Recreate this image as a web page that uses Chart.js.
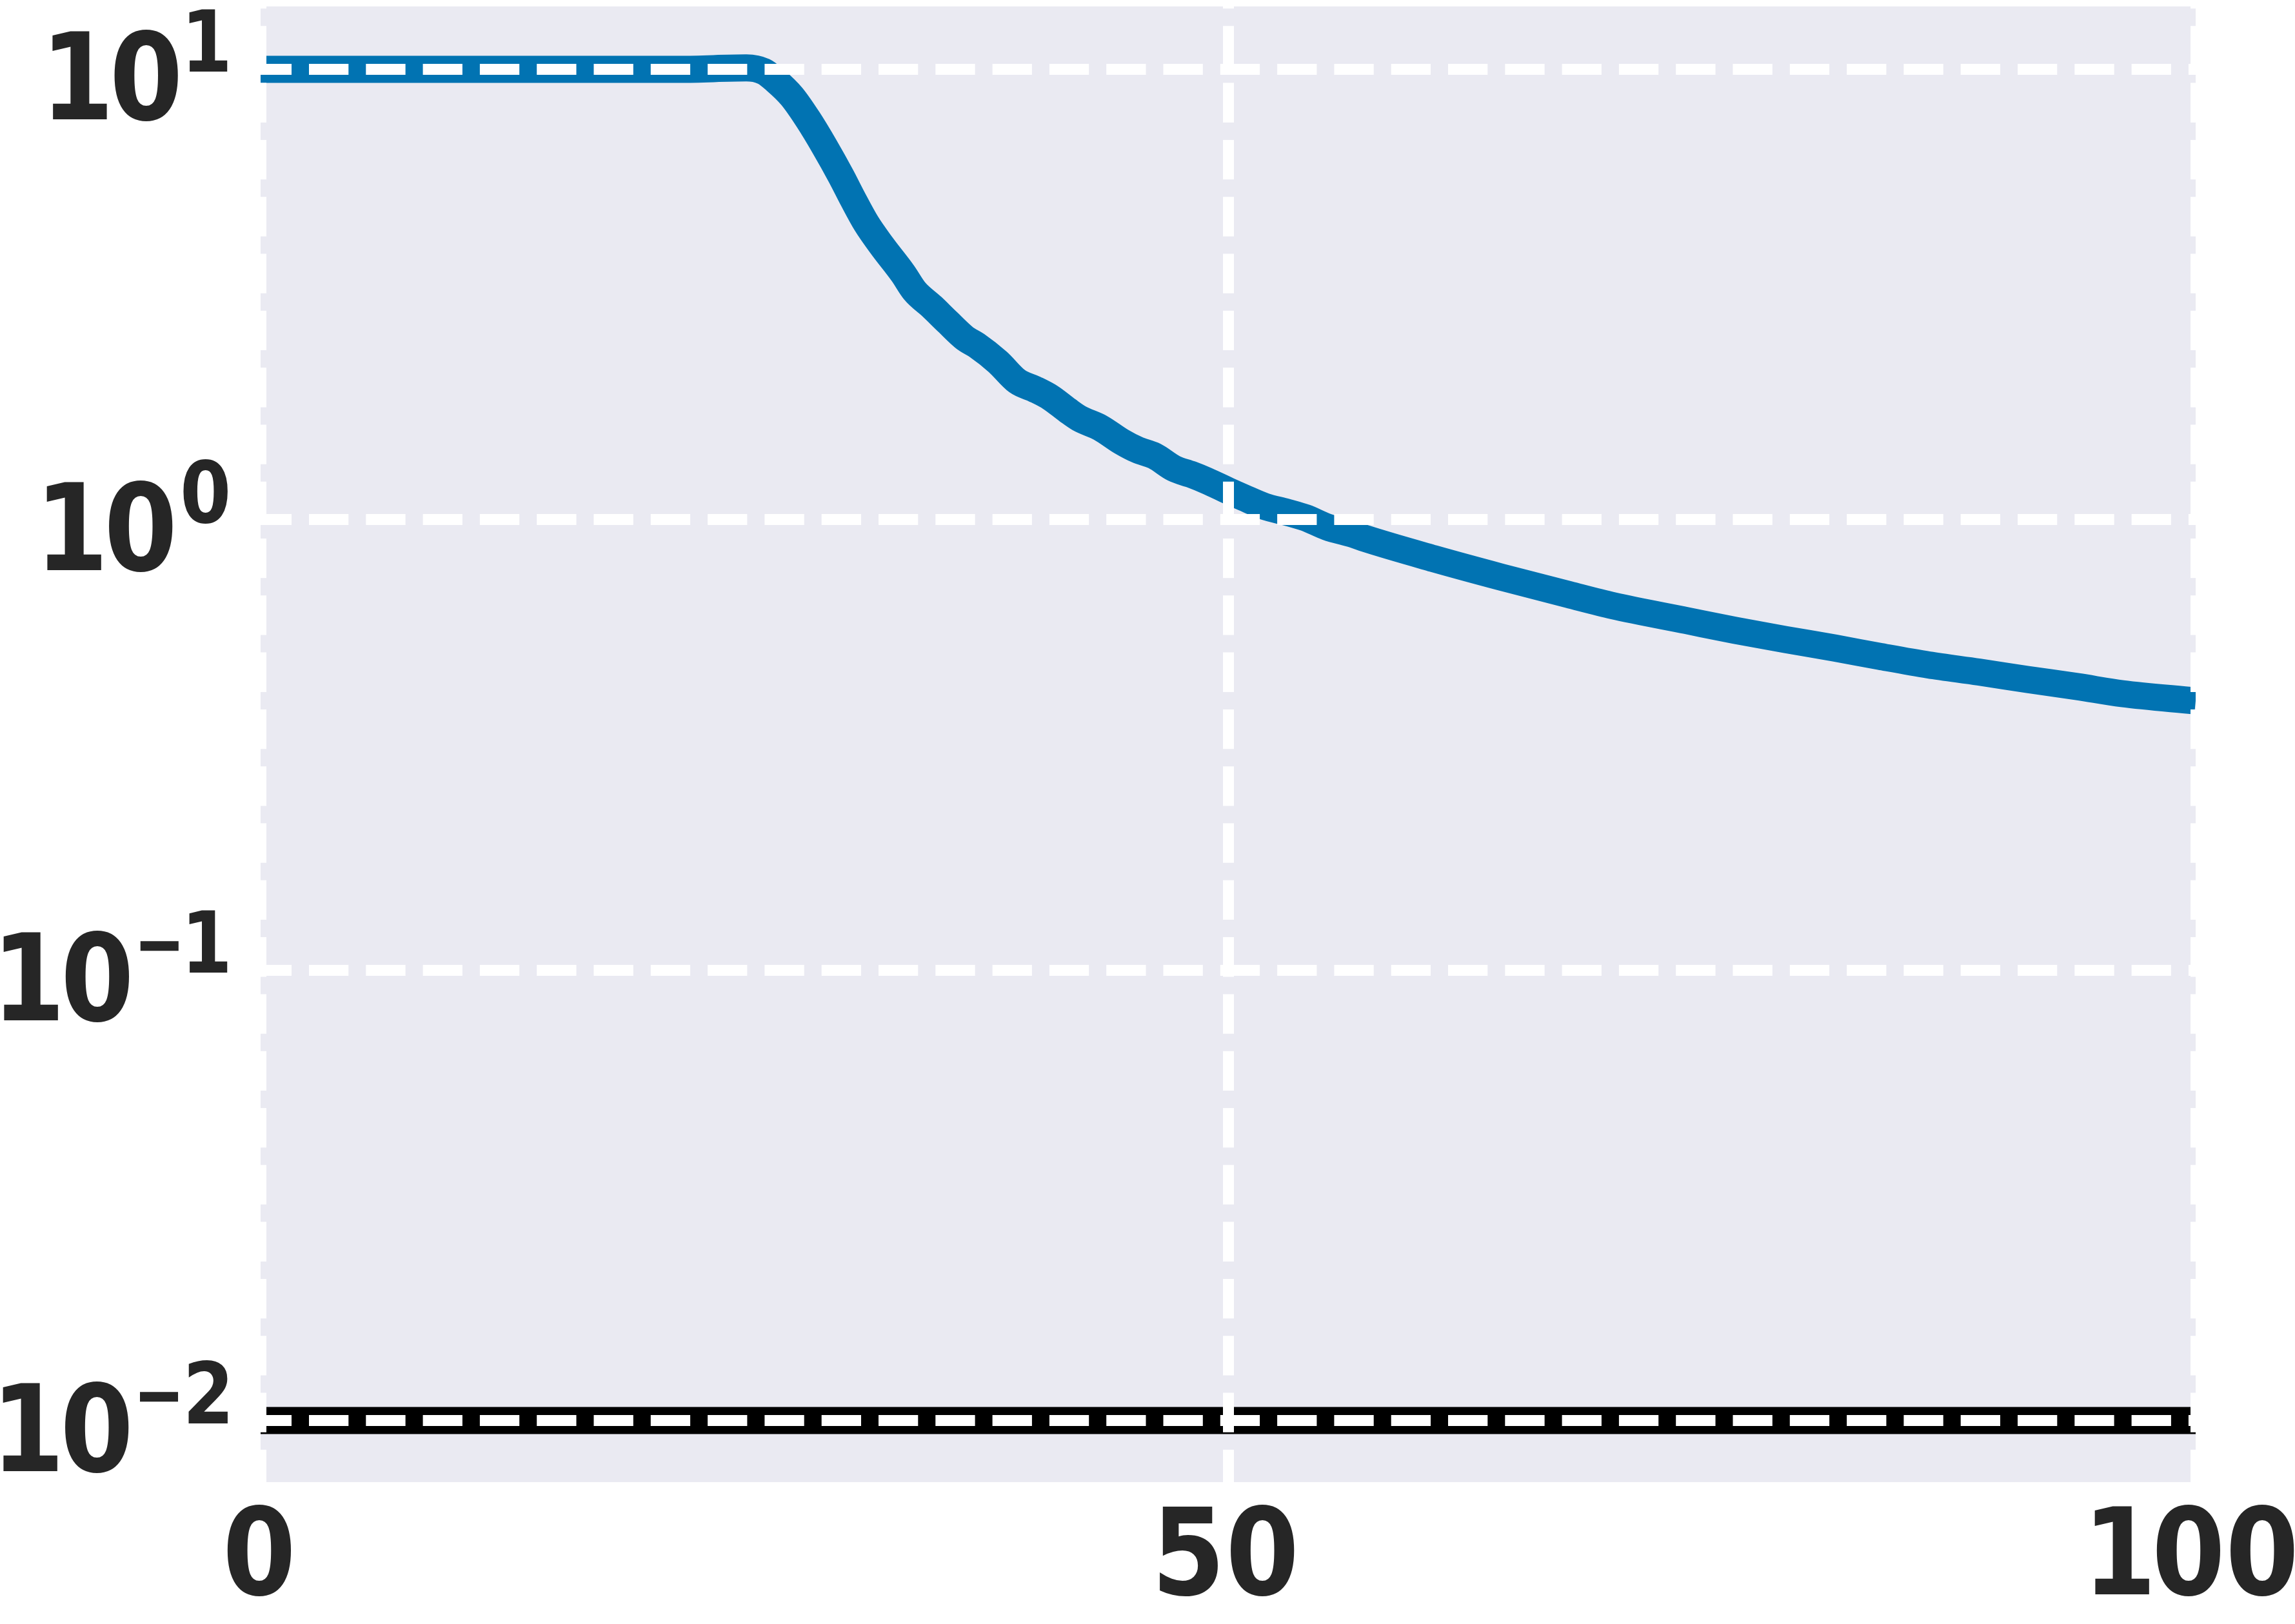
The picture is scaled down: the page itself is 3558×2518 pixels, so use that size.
<!DOCTYPE html>
<html>
<head>
<meta charset="utf-8">
<script src="https://cdn.jsdelivr.net/npm/chart.js@4.4.0/dist/chart.umd.min.js"></script>
<style>
  html, body { margin: 0; padding: 0; background: #ffffff; }
  canvas { display: block; }
</style>
</head>
<body>
<canvas id="grafico" width="3558" height="2518"></canvas>
<script>
// datos (eje y logaritmico)
const epocas = [0, 21.7, 25.1, 26.0, 26.6, 27.45, 28.3, 29.15, 30.0, 30.6, 31.3, 32.1, 33.2, 33.8, 34.7,
    35.5, 36.4, 37.0, 38.1, 39.1, 40.0, 40.8, 41.7, 42.3, 43.4, 44.5, 45.3, 46.2, 47.2, 48.1, 48.9,
    50.0, 50.8, 51.9, 53.0, 54.0, 55.1, 56.5, 57.1, 60.6, 64.1, 67.6, 69.9, 73.7, 76.2, 78.8, 81.35,
    83.7, 86.2, 88.8, 91.3, 93.9, 96.2, 100];
const perdida = [10.0, 10.0, 10.07, 9.89, 9.46, 8.71, 7.73, 6.73, 5.79, 5.16, 4.55, 4.06, 3.52, 3.22, 2.97,
    2.75, 2.53, 2.44, 2.24, 2.03, 1.95, 1.87, 1.75, 1.68, 1.60, 1.49, 1.43, 1.385, 1.30, 1.26, 1.22,
    1.16, 1.12, 1.07, 1.04, 1.01, 0.964, 0.927, 0.908, 0.820, 0.746, 0.682, 0.644, 0.597, 0.568, 0.542, 0.519,
    0.497, 0.476, 0.459, 0.442, 0.426, 0.411, 0.396];

const limiteX = [0, 100];
const limiteY = [0.01, 0.01];

const ticksX = [0, 50, 100];
const etiquetasTicksX = ['0', '50', '100'];
const ticksY = [0.01, 0.1, 1, 10];
const exponentesY = ['\u22122', '\u22121', '0', '1'];

const fuente = "'DejaVu Sans', sans-serif";
const colorTexto = '#262626';
const estrechar = 0.87; // las letras del original son mas estrechas

function puntos(xs, ys) {
    return xs.map((x, i) => ({ x: x, y: ys[i] }));
}

// separacion entre la tinta de dos cifras seguidas
function hueco(c) {
    if (c === '1') return 12;
    if (c === '5') return 20;
    return 16;
}

// un caracter estrechado con su tinta terminando en xDerecha; devuelve el borde izquierdo
function glifo(ctx, c, xDerecha, y, factor) {
    const m = ctx.measureText(c);
    const x0 = xDerecha - m.actualBoundingBoxRight * factor;
    ctx.save();
    ctx.translate(x0, y);
    ctx.scale(factor, 1);
    ctx.fillText(c, 0, 0);
    ctx.restore();
    return x0 - m.actualBoundingBoxLeft * factor;
}

function anchoTinta(ctx, texto) {
    let ancho = 0;
    for (let k = 0; k < texto.length; k++) {
        const m = ctx.measureText(texto[k]);
        ancho += (m.actualBoundingBoxLeft + m.actualBoundingBoxRight) * estrechar;
        if (k > 0) ancho += hueco(texto[k - 1]);
    }
    return ancho;
}

// cifras de derecha a izquierda; devuelve el borde izquierdo de la tinta
function cifras(ctx, texto, xDerecha, y) {
    let derecha = xDerecha;
    let izquierda = xDerecha;
    for (let k = texto.length - 1; k >= 0; k--) {
        izquierda = glifo(ctx, texto[k], derecha, y, estrechar);
        if (k > 0) derecha = izquierda - hueco(texto[k - 1]);
    }
    return izquierda;
}

// fondo gris del area de trazado
const fondo = {
    id: 'fondo',
    beforeDraw(chart) {
        const { ctx, chartArea } = chart;
        ctx.save();
        ctx.fillStyle = '#EAEAF2';
        ctx.fillRect(chartArea.left, chartArea.top, chartArea.right - chartArea.left, chartArea.bottom - chartArea.top);
        ctx.restore();
    }
};

// etiquetas de los ejes: 10^n con exponente elevado y numeros en x
const etiquetas = {
    id: 'etiquetas',
    afterDraw(chart) {
        const ctx = chart.ctx;
        const escalaY = chart.scales.y;
        const escalaX = chart.scales.x;
        ctx.save();
        ctx.fillStyle = colorTexto;
        ctx.textAlign = 'left';
        ctx.textBaseline = 'alphabetic';

        ticksY.forEach((v, i) => {
            const yPix = escalaY.getPixelForValue(v);
            const exp = exponentesY[i];
            ctx.font = 'bold 131px ' + fuente;
            let izquierda = cifras(ctx, exp.replace('\u2212', ''), 353, yPix + 4);
            if (exp.startsWith('\u2212')) {
                izquierda = glifo(ctx, '\u2212', izquierda - 16, yPix + 4, 0.72);
            }
            ctx.font = 'bold 188px ' + fuente;
            cifras(ctx, '10', izquierda - 17, yPix + 78);
        });

        ctx.font = 'bold 188px ' + fuente;
        ticksX.forEach((v, i) => {
            const xPix = escalaX.getPixelForValue(v);
            const ancho = anchoTinta(ctx, etiquetasTicksX[i]);
            cifras(ctx, etiquetasTicksX[i], xPix - 2 + ancho / 2, 2472);
        });
        ctx.restore();
    }
};

const ctx = document.getElementById('grafico').getContext('2d');

new Chart(ctx, {
    type: 'line',
    data: {
        datasets: [
            {
                data: puntos(limiteX, limiteY),
                borderColor: '#000000',
                borderWidth: 42,
                pointRadius: 0,
                fill: false
            },
            {
                data: puntos(epocas, perdida),
                borderColor: '#0173B2',
                borderWidth: 42,
                borderJoinStyle: 'round',
                cubicInterpolationMode: 'monotone',
                pointRadius: 0,
                fill: false
            }
        ]
    },
    options: {
        responsive: false,
        devicePixelRatio: 1,
        animation: false,
        events: [],
        layout: { padding: { top: 10, right: 154, left: 0, bottom: 0 } },
        plugins: {
            legend: { display: false },
            tooltip: { enabled: false }
        },
        scales: {
            x: {
                type: 'linear',
                min: 0,
                max: 100,
                afterBuildTicks: (escala) => { escala.ticks = ticksX.map(v => ({ value: v })); },
                afterFit: (escala) => { escala.height = 220; },
                grid: { color: '#ffffff', lineWidth: 17, drawTicks: false, z: 1 },
                border: { display: false, dash: [61.3, 27], dashOffset: 58 },
                ticks: { display: false }
            },
            y: {
                type: 'logarithmic',
                min: 0.0073,
                max: 13.79,
                afterBuildTicks: (escala) => { escala.ticks = ticksY.map(v => ({ value: v })); },
                afterFit: (escala) => { escala.width = 404; },
                grid: { color: '#ffffff', lineWidth: 17, drawTicks: false, z: 1 },
                border: { display: false, dash: [61.3, 27], dashOffset: 13.3 },
                ticks: { display: false }
            }
        }
    },
    plugins: [fondo, etiquetas]
});
</script>
</body>
</html>
